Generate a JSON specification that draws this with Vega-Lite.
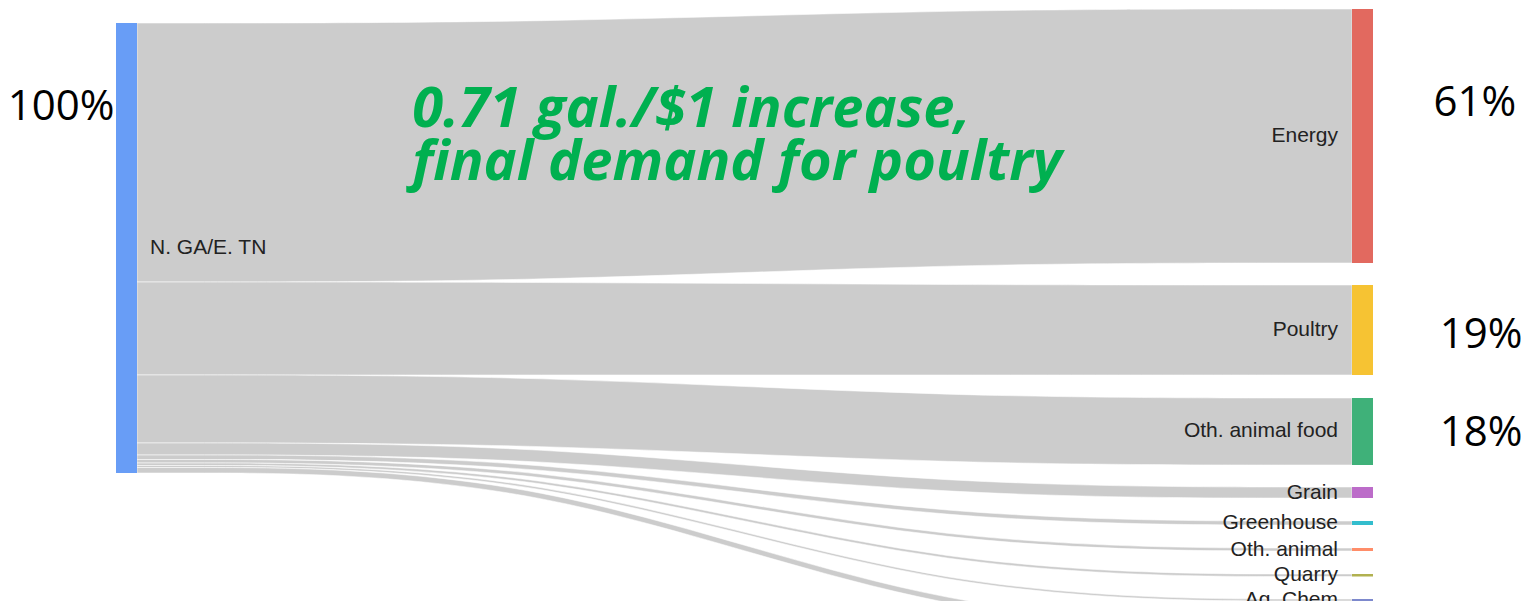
{
  "$schema": "https://vega.github.io/schema/vega-lite/v6.json",
  "width": 1527,
  "height": 601,
  "autosize": {"type": "none"},
  "padding": 0,
  "background": "white",
  "config": {"view": {"stroke": null}},
  "datasets": {
    "links": [
      {"target": "Energy", "pos": [0, 0.333, 0.667, 1], "top": [0, 0, -3.11, -3.11], "bottom": [57.56, 57.56, 53.33, 53.33]},
      {"target": "Poultry", "pos": [0, 0.333, 0.667, 1], "top": [57.56, 57.56, 58.22, 58.22], "bottom": [78.22, 78.22, 78.22, 78.22]},
      {"target": "Oth. animal food", "pos": [0, 0.333, 0.667, 1], "top": [78.22, 78.22, 83.33, 83.33], "bottom": [93.33, 93.33, 98.22, 98.22]},
      {"target": "Grain", "pos": [0, 0.333, 0.667, 1], "top": [93.33, 93.33, 103.11, 103.11], "bottom": [96.0, 96.0, 105.56, 105.56]},
      {"target": "Greenhouse", "pos": [0, 0.333, 0.667, 1], "top": [96.0, 96.0, 110.67, 110.67], "bottom": [97.0, 97.0, 111.56, 111.56]},
      {"target": "Oth. animal", "pos": [0, 0.333, 0.667, 1], "top": [97.0, 97.0, 116.67, 116.67], "bottom": [97.78, 97.78, 117.33, 117.33]},
      {"target": "Quarry", "pos": [0, 0.333, 0.667, 1], "top": [97.78, 97.78, 122.44, 122.44], "bottom": [98.33, 98.33, 123.0, 123.0]},
      {"target": "Ag. Chem", "pos": [0, 0.333, 0.667, 1], "top": [98.33, 98.33, 128.0, 128.0], "bottom": [98.78, 98.78, 128.44, 128.44]},
      {"target": "Other", "pos": [0, 0.333, 0.667, 1], "top": [98.78, 98.78, 133.33, 133.33], "bottom": [100, 100, 134.56, 134.56]}
    ],
    "nodes": [
      {"node": "N. GA/E. TN", "col": 0, "top": 0, "bottom": 100},
      {"node": "Energy", "col": 1, "top": -3.11, "bottom": 53.33},
      {"node": "Poultry", "col": 1, "top": 58.22, "bottom": 78.22},
      {"node": "Oth. animal food", "col": 1, "top": 83.33, "bottom": 98.22},
      {"node": "Grain", "col": 1, "top": 103.11, "bottom": 105.56},
      {"node": "Greenhouse", "col": 1, "top": 110.67, "bottom": 111.56},
      {"node": "Oth. animal", "col": 1, "top": 116.67, "bottom": 117.33},
      {"node": "Quarry", "col": 1, "top": 122.44, "bottom": 123.0},
      {"node": "Ag. Chem", "col": 1, "top": 128.0, "bottom": 128.44},
      {"node": "Other", "col": 1, "top": 133.33, "bottom": 134.56}
    ],
    "notes": [
      {"text": "100%", "x": -0.0625, "y": 18.67},
      {"text": "61%", "x": 1.1012, "y": 17.78},
      {"text": "19%", "x": 1.1062, "y": 69.33},
      {"text": "18%", "x": 1.1062, "y": 91.11}
    ],
    "headline": [
      {"text": "0.71 gal./$1 increase,\nfinal demand for poultry", "x": 0.2265, "y": 23.2}
    ]
  },
  "layer": [
    {
      "data": {"name": "links"},
      "transform": [{"flatten": ["pos", "top", "bottom"]}],
      "mark": {"type": "area", "interpolate": "basis", "color": "#cccccc", "stroke": "white", "strokeWidth": 0.6, "strokeOpacity": 0.9},
      "encoding": {
        "x": {"field": "pos", "type": "quantitative", "scale": {"domain": [-0.11276, 1.14403], "nice": false, "zero": false}, "axis": null},
        "y": {"field": "top", "type": "quantitative", "scale": {"domain": [-5.111, 128.444], "nice": false, "zero": false, "reverse": true}, "axis": null},
        "y2": {"field": "bottom"},
        "detail": {"field": "target", "type": "nominal"}
      }
    },
    {
      "data": {"name": "nodes"},
      "transform": [{"filter": "datum.col == 0"}],
      "mark": {"type": "rect", "xOffset": -21, "opacity": 0.8},
      "encoding": {
        "x": {"field": "col", "type": "quantitative", "scale": {"domain": [-0.11276, 1.14403], "nice": false, "zero": false}, "axis": null},
        "x2": {"field": "col"},
        "y": {"field": "top", "type": "quantitative", "scale": {"domain": [-5.111, 128.444], "nice": false, "zero": false, "reverse": true}, "axis": null},
        "y2": {"field": "bottom"},
        "color": {"field": "node", "type": "nominal", "legend": null, "scale": {"domain": ["N. GA/E. TN", "Energy", "Poultry", "Oth. animal food", "Grain", "Greenhouse", "Oth. animal", "Quarry", "Ag. Chem", "Other"], "range": ["#4285F4", "#DB4437", "#F4B400", "#0F9D58", "#AB47BC", "#00ACC1", "#FF7043", "#9E9D24", "#5C6BC0", "#F06292"]}}
      }
    },
    {
      "data": {"name": "nodes"},
      "transform": [{"filter": "datum.col == 1"}],
      "mark": {"type": "rect", "x2Offset": 21, "opacity": 0.8},
      "encoding": {
        "x": {"field": "col", "type": "quantitative", "scale": {"domain": [-0.11276, 1.14403], "nice": false, "zero": false}, "axis": null},
        "x2": {"field": "col"},
        "y": {"field": "top", "type": "quantitative", "scale": {"domain": [-5.111, 128.444], "nice": false, "zero": false, "reverse": true}, "axis": null},
        "y2": {"field": "bottom"},
        "color": {"field": "node", "type": "nominal", "legend": null, "scale": {"domain": ["N. GA/E. TN", "Energy", "Poultry", "Oth. animal food", "Grain", "Greenhouse", "Oth. animal", "Quarry", "Ag. Chem", "Other"], "range": ["#4285F4", "#DB4437", "#F4B400", "#0F9D58", "#AB47BC", "#00ACC1", "#FF7043", "#9E9D24", "#5C6BC0", "#F06292"]}}
      }
    },
    {
      "data": {"name": "nodes"},
      "transform": [
        {"filter": "datum.col == 0"},
        {"fold": ["top", "bottom"]},
        {"aggregate": [{"op": "mean", "field": "value", "as": "mid"}], "groupby": ["node", "col"]}
      ],
      "mark": {"type": "text", "align": "left", "baseline": "middle", "dx": 13, "fontSize": 21, "font": "Liberation Sans", "color": "#222222"},
      "encoding": {
        "x": {"field": "col", "type": "quantitative", "scale": {"domain": [-0.11276, 1.14403], "nice": false, "zero": false}, "axis": null},
        "y": {"field": "mid", "type": "quantitative", "scale": {"domain": [-5.111, 128.444], "nice": false, "zero": false, "reverse": true}, "axis": null},
        "text": {"field": "node"}
      }
    },
    {
      "data": {"name": "nodes"},
      "transform": [
        {"filter": "datum.col == 1"},
        {"fold": ["top", "bottom"]},
        {"aggregate": [{"op": "mean", "field": "value", "as": "mid"}], "groupby": ["node", "col"]}
      ],
      "mark": {"type": "text", "align": "right", "baseline": "middle", "dx": -14, "fontSize": 21, "font": "Liberation Sans", "color": "#222222"},
      "encoding": {
        "x": {"field": "col", "type": "quantitative", "scale": {"domain": [-0.11276, 1.14403], "nice": false, "zero": false}, "axis": null},
        "y": {"field": "mid", "type": "quantitative", "scale": {"domain": [-5.111, 128.444], "nice": false, "zero": false, "reverse": true}, "axis": null},
        "text": {"field": "node"}
      }
    },
    {
      "data": {"name": "notes"},
      "mark": {"type": "text", "align": "center", "baseline": "middle", "fontSize": 42, "font": "Open Sans", "color": "#000000"},
      "encoding": {
        "x": {"field": "x", "type": "quantitative", "scale": {"domain": [-0.11276, 1.14403], "nice": false, "zero": false}, "axis": null},
        "y": {"field": "y", "type": "quantitative", "scale": {"domain": [-5.111, 128.444], "nice": false, "zero": false, "reverse": true}, "axis": null},
        "text": {"field": "text"}
      }
    },
    {
      "data": {"name": "headline"},
      "mark": {"type": "text", "align": "left", "baseline": "alphabetic", "lineBreak": "\n", "lineHeight": 53, "fontSize": 56, "font": "Open Sans", "fontWeight": "bold", "fontStyle": "italic", "color": "#00B050"},
      "encoding": {
        "x": {"field": "x", "type": "quantitative", "scale": {"domain": [-0.11276, 1.14403], "nice": false, "zero": false}, "axis": null},
        "y": {"field": "y", "type": "quantitative", "scale": {"domain": [-5.111, 128.444], "nice": false, "zero": false, "reverse": true}, "axis": null},
        "text": {"field": "text"}
      }
    }
  ]
}
